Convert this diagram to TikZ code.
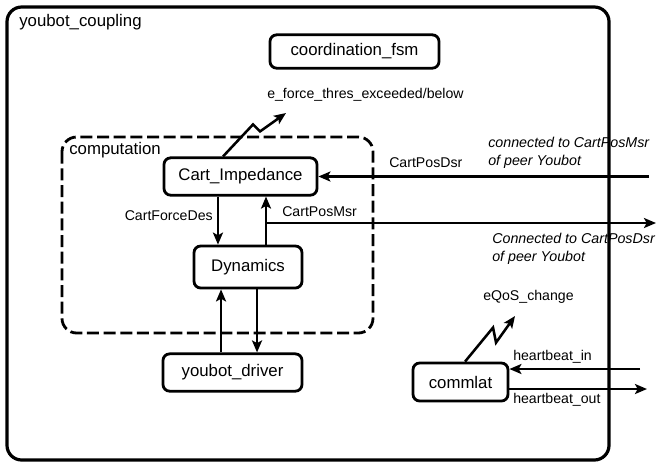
\documentclass[tikz,border=0pt]{standalone}
\usepackage{fontspec}
\setmainfont{Liberation Sans}
\usetikzlibrary{arrows.meta}

\tikzset{
  block/.style={draw, line width=2.1pt, rounded corners=5pt, inner sep=0pt,
    font=\fontsize{12.6}{15}\selectfont},
  lbl/.style={anchor=west, inner sep=0pt, font=\fontsize{10.6}{13}\selectfont},
  peernote/.style={anchor=west, inner sep=0pt, align=left,
    font=\fontsize{10.7}{13.5}\selectfont\itshape},
  arr/.style={line width=1.9pt, -{Stealth[length=9pt,width=7.5pt,inset=2pt]}},
}

\begin{document}
\begin{tikzpicture}[x=0.75pt,y=0.75pt,yscale=-1,xscale=1]
\useasboundingbox (0,0) rectangle (656,462);

%Shape: Rounded Rect [id:outer]
\draw [line width=2.4pt, rounded corners=11pt] (7,7) rectangle (609,460);
%Shape: Rounded Rect [id:computation]
\draw [line width=2.1pt, rounded corners=11pt, dash pattern={on 9pt off 3.5pt}] (62,137) rectangle (373,333);

% Blocks
\node [block, minimum width=126.75pt, minimum height=25pt] (fsm) at (354.5,51.5) {coordination\_fsm};
\node [block, minimum width=114.75pt, minimum height=28pt] (ci) at (240.5,176.5) {Cart\_Impedance};
\node [block, minimum width=81pt, minimum height=31.5pt] (dyn) at (248,267) {Dynamics};
\node [block, minimum width=104.25pt, minimum height=28pt] (drv) at (232.5,372.5) {youbot\_driver};
\node [block, minimum width=71.25pt, minimum height=28.5pt] (cl) at (460.5,382) {commlat};

% Free ends
\coordinate (eforce) at (286,113);
\coordinate (qos) at (515,316);
\coordinate (msrsplit) at (266,223);
\coordinate (msrout) at (656,223);
\coordinate (dsrin) at (649,176.5);
\coordinate (hbin) at (640,369);
\coordinate (hbout) at (647,389);

%Straight Lines
\draw [arr] ([xshift=-16.9pt]ci.south) -- ([xshift=-16.9pt]ci.south |- dyn.north);
\draw [arr] (msrsplit |- dyn.north) -- (msrsplit |- ci.south);
\draw [arr] (msrsplit) -- (msrout);
\draw [arr] (dsrin) -- (dsrin -| ci.east);
\draw [arr] ([xshift=-8.6pt]drv.north) -- ([xshift=-8.6pt]drv.north |- dyn.south);
\draw [arr] ([xshift=18.4pt]drv.north |- dyn.south) -- ([xshift=18.4pt]drv.north);
\draw [arr] (hbin) -- (hbin -| cl.east);
\draw [arr] (hbout -| cl.east) -- (hbout);
%Lightning
\draw [arr] ([xshift=-13.1pt]ci.north) -- ++(30,-32) -- ++(7,7) -- (eforce);
\draw [arr] ([xshift=3.4pt]cl.north) -- ++(28,-34) -- ++(3,15) -- (qos);

% Text Node
\node [anchor=west, inner sep=0pt, font=\fontsize{12.6}{15}\selectfont] (tcoup) at (19,22) {youbot\_coupling};
% Text Node
\node [anchor=west, inner sep=0pt, font=\fontsize{12.6}{15}\selectfont] (tcomp) at (69,150) {computation};
% Text Node
\node [lbl] (tforce) at (267,95) {e\_force\_thres\_exceeded/below};
% Text Node
\node [lbl, anchor=east] (tfdes) at (213,216) {CartForceDes};
% Text Node
\node [lbl] (tmsr) at (282,212) {CartPosMsr};
% Text Node
\node [lbl] (tdsr) at (389,163) {CartPosDsr};
% Text Node
\node [peernote] (tpeer1) at (488,153) {connected to CartPosMsr\\of peer Youbot};
% Text Node
\node [peernote] (tpeer2) at (492,249) {Connected to CartPosDsr\\of peer Youbot};
% Text Node
\node [lbl] (tqos) at (483,297) {eQoS\_change};
% Text Node
\node [lbl] (thbin) at (513,357) {heartbeat\_in};
% Text Node
\node [lbl] (thbout) at (513,400) {heartbeat\_out};

\end{tikzpicture}
\end{document}
